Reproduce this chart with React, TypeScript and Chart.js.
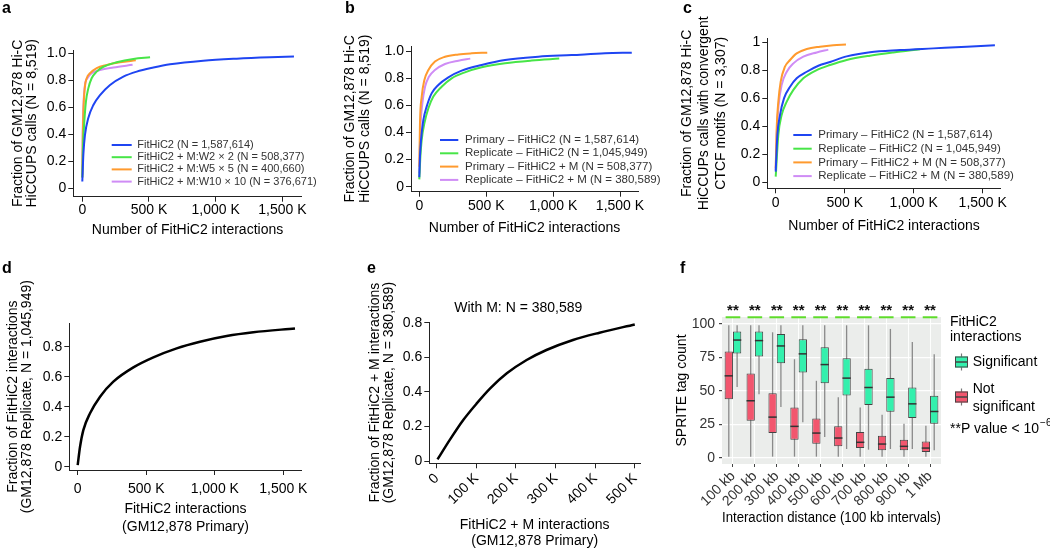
import React, { useEffect, useRef } from "react";
import { Chart, registerables } from "chart.js";
Chart.register(...registerables);

const FONT = "'Liberation Sans', Arial, Helvetica, sans-serif";
const AXIS = "#222";
const BLUE = "#1f45f2";
const GREEN = "#47e547";
const ORANGE = "#ff9a2e";
const PURPLE = "#cf8cf5";
const RED = "#f2566e";
const MINT = "#34f0ad";
const SIG_GREEN = "#5edc2a";

// ---------- Panel a ----------
const A_X_TICKS = [0, 500, 1000, 1500];
const A_Y_TICKS = [0, 0.2, 0.4, 0.6, 0.8, 1.0];
const A_FITHIC2_X = [0, 8, 20, 45, 83, 133, 208, 308, 408, 533, 658, 907, 1157, 1407, 1587];
const A_FITHIC2_Y = [0.05, 0.25, 0.395, 0.52, 0.617, 0.69, 0.765, 0.827, 0.864, 0.894, 0.918, 0.945, 0.96, 0.97, 0.975];
const A_W2_X = [0, 5, 12, 27, 45, 70, 108, 158, 258, 383, 508];
const A_W2_Y = [0.08, 0.3, 0.444, 0.64, 0.74, 0.815, 0.864, 0.9, 0.933, 0.958, 0.97];
const A_W5_X = [0, 3, 8, 18, 33, 58, 108, 183, 283, 401];
const A_W5_Y = [0.08, 0.35, 0.568, 0.74, 0.815, 0.852, 0.89, 0.913, 0.933, 0.948];
const A_W10_X = [0, 3, 8, 20, 38, 70, 133, 233, 377];
const A_W10_Y = [0.1, 0.4, 0.6, 0.765, 0.815, 0.852, 0.876, 0.894, 0.914];
const A_LABELS = [
  "FitHiC2 (N = 1,587,614)",
  "FitHiC2 + M:W2 \u00d7 2 (N = 508,377)",
  "FitHiC2 + M:W5 \u00d7 5 (N = 400,660)",
  "FitHiC2 + M:W10 \u00d7 10 (N = 376,671)",
];

// ---------- Panel b ----------
const B_PRIM_X = [0, 5, 13, 30, 55, 92, 142, 217, 317, 466, 641, 890, 1139, 1388, 1588];
const B_PRIM_Y = [0.07, 0.22, 0.344, 0.49, 0.59, 0.688, 0.75, 0.806, 0.855, 0.897, 0.934, 0.958, 0.97, 0.983, 0.988];
const B_REP_X = [0, 7, 18, 38, 68, 105, 167, 242, 341, 466, 641, 840, 1046];
const B_REP_Y = [0.054, 0.2, 0.344, 0.467, 0.578, 0.664, 0.737, 0.799, 0.843, 0.88, 0.91, 0.93, 0.944];
const B_PRIM_M_X = [0, 5, 18, 38, 68, 117, 192, 292, 391, 508];
const B_PRIM_M_Y = [0.147, 0.467, 0.664, 0.786, 0.86, 0.922, 0.958, 0.975, 0.983, 0.988];
const B_REP_M_X = [0, 8, 23, 43, 72, 117, 192, 292, 381];
const B_REP_M_Y = [0.098, 0.418, 0.614, 0.737, 0.81, 0.86, 0.904, 0.929, 0.944];
const BC_LABELS = [
  "Primary \u2013 FitHiC2 (N = 1,587,614)",
  "Replicate \u2013 FitHiC2 (N = 1,045,949)",
  "Primary \u2013 FitHiC2 + M (N = 508,377)",
  "Replicate \u2013 FitHiC2 + M (N = 380,589)",
];

// ---------- Panel c ----------
const C_Y_TICKS = [0, 0.2, 0.4, 0.6, 0.8, 1];
const C_PRIM_X = [0, 12, 31, 60, 104, 152, 225, 309, 394, 514, 683, 901, 1142, 1384, 1588];
const C_PRIM_Y = [0.076, 0.338, 0.48, 0.6, 0.683, 0.743, 0.79, 0.833, 0.86, 0.9, 0.93, 0.945, 0.957, 0.969, 0.98];
const C_REP_X = [0, 19, 43, 80, 128, 200, 297, 394, 514, 683, 852, 1046];
const C_REP_Y = [0.04, 0.338, 0.48, 0.576, 0.66, 0.743, 0.802, 0.838, 0.874, 0.905, 0.928, 0.95];
const C_PRIM_M_X = [0, 7, 19, 36, 67, 104, 152, 225, 321, 417, 509];
const C_PRIM_M_Y = [0.1, 0.386, 0.576, 0.719, 0.826, 0.874, 0.921, 0.952, 0.969, 0.98, 0.985];
const C_REP_M_X = [0, 7, 21, 43, 80, 128, 200, 297, 381];
const C_REP_M_Y = [0.088, 0.338, 0.552, 0.695, 0.79, 0.85, 0.898, 0.928, 0.948];

// ---------- Panel d ----------
const D_Y_TICKS = [0, 0.2, 0.4, 0.6, 0.8];
const D_X = [0, 17, 41, 90, 163, 260, 406, 552, 722, 892, 1087, 1281, 1585];
const D_Y = [0.011, 0.133, 0.244, 0.356, 0.467, 0.567, 0.662, 0.729, 0.789, 0.833, 0.871, 0.896, 0.922];

// ---------- Panel e ----------
const E_X_TICKS = [0, 100, 200, 300, 400, 500];
const E_X = [2, 33, 67, 101, 135, 177, 227, 277, 344, 411, 500];
const E_Y = [0.009, 0.122, 0.237, 0.333, 0.42, 0.507, 0.584, 0.642, 0.7, 0.742, 0.79];
const E_TITLE = "With M: N = 380,589";

// ---------- Panel f ----------
const F_LABELS = ["100 kb", "200 kb", "300 kb", "400 kb", "500 kb", "600 kb", "700 kb", "800 kb", "900 kb", "1 Mb"];
const F_Y_TICKS = [0, 25, 50, 75, 100];
const NS_MIN = [1, 1, 1, 1, 1, 1, 1, 1, 1, 1];
const NS_Q1 = [43.9, 27.8, 18.6, 13.6, 10.7, 8.7, 7.4, 5.7, 5.7, 4.5];
const NS_MED = [61.3, 42.7, 30.5, 23.6, 18.6, 14.9, 11.7, 10.4, 8.7, 7.4];
const NS_Q3 = [79.4, 63, 48.4, 37.7, 29.5, 23.6, 19.4, 16.6, 13.6, 12.4];
const NS_MAX = [99, 99, 93.8, 73.7, 57.6, 45.4, 37.7, 32.3, 25.6, 24];
const SG_MIN = [52.9, 47.6, 38, 26.6, 15.6, 6.7, 6.2, 6.7, 6.7, 5.7];
const SG_Q1 = [78, 75.7, 70.7, 63.8, 55.8, 46.7, 39.5, 34.5, 29.8, 25.6];
const SG_MED = [88, 87.6, 83.6, 77.7, 69.7, 59.6, 52.6, 45.4, 40.4, 34.7];
const SG_Q3 = [94.3, 94.3, 92.6, 88.6, 82.6, 74.4, 66.5, 59.6, 52.6, 46.4];
const SG_MAX = [99, 99, 99, 99, 99, 99, 99, 96.3, 86.6, 77.4];
const F_SIG_MARKS = ["**", "**", "**", "**", "**", "**", "**", "**", "**", "**"];
const F_SIG_LEVEL = 105;

const kFmt = (v: number) => (v === 0 ? "0" : `${v.toLocaleString("en-US")} K`);
const dec1 = (v: number) => (v === 0 ? "0" : v.toFixed(1));
const decC = (v: number) => (v === 0 ? "0" : v === 1 ? "1" : v.toFixed(1));

type Area = { left: number; top: number; right: number; bottom: number };
type Series = { label: string; x: number[]; y: number[]; color: string; width?: number };
type LinePanel = {
  w: number;
  h: number;
  area: Area;
  xRange: [number, number];
  yRange: [number, number];
  xTicks: number[];
  yTicks: number[];
  xFmt: (v: number) => string;
  yFmt: (v: number) => string;
  xRot?: number;
  xTickPad: number;
  xTitle: string[];
  xTitleLH: number;
  xTitlePad: number;
  yTitle: string[];
  yTitleLH: number;
  yTitlePad: number;
  series: Series[];
  legend?: { x: number; y: number; row: number; len: number; gap: number; size: number };
  texts?: { text: string; x: number; y: number; size: number }[];
};

function lineConfig(p: LinePanel): any {
  const overlay = {
    id: "overlay",
    afterDatasetsDraw(chart: any) {
      const { ctx, chartArea } = chart;
      ctx.save();
      if (p.legend) {
        const L = p.legend;
        ctx.font = `${L.size}px ${FONT}`;
        ctx.textBaseline = "middle";
        ctx.textAlign = "left";
        chart.data.datasets.forEach((ds: any, i: number) => {
          const y = chartArea.top + L.y + i * L.row;
          const x0 = chartArea.left + L.x;
          ctx.strokeStyle = ds.borderColor;
          ctx.lineWidth = 2;
          ctx.beginPath();
          ctx.moveTo(x0, y);
          ctx.lineTo(x0 + L.len, y);
          ctx.stroke();
          ctx.fillStyle = "#333";
          ctx.fillText(ds.label, x0 + L.len + L.gap, y);
        });
      }
      (p.texts || []).forEach((t) => {
        ctx.font = `${t.size}px ${FONT}`;
        ctx.fillStyle = "#000";
        ctx.textAlign = "center";
        ctx.textBaseline = "middle";
        ctx.fillText(t.text, t.x, t.y);
      });
      ctx.restore();
    },
  };
  return {
    type: "line",
    data: {
      datasets: p.series.map((s) => ({
        label: s.label,
        data: s.x.map((x, i) => ({ x, y: s.y[i] })),
        borderColor: s.color,
        backgroundColor: s.color,
        borderWidth: s.width ?? 2,
        pointRadius: 0,
        tension: 0.4,
        cubicInterpolationMode: "monotone",
        fill: false,
      })),
    },
    options: {
      responsive: false,
      animation: false,
      devicePixelRatio: 1,
      events: [],
      layout: { padding: { left: 0, top: p.area.top, right: p.w - p.area.right, bottom: 0 } },
      plugins: { legend: { display: false }, tooltip: { enabled: false } },
      scales: {
        x: {
          type: "linear",
          min: p.xRange[0],
          max: p.xRange[1],
          afterBuildTicks: (s: any) => {
            s.ticks = p.xTicks.map((v) => ({ value: v }));
          },
          afterFit: (s: any) => {
            s.height = p.h - p.area.bottom;
          },
          grid: { drawOnChartArea: false, drawTicks: true, tickLength: 5, color: AXIS, lineWidth: 1 },
          border: { display: true, color: AXIS, width: 1 },
          ticks: {
            color: "#000",
            font: { family: FONT, size: 14 },
            padding: p.xTickPad,
            autoSkip: false,
            maxRotation: p.xRot ?? 0,
            minRotation: p.xRot ?? 0,
            callback: (v: any) => p.xFmt(Number(v)),
          },
          title: {
            display: true,
            text: p.xTitle,
            color: "#000",
            font: { family: FONT, size: 14, lineHeight: p.xTitleLH / 14 },
            padding: { top: 0, bottom: p.xTitlePad },
          },
        },
        y: {
          type: "linear",
          min: p.yRange[0],
          max: p.yRange[1],
          afterBuildTicks: (s: any) => {
            s.ticks = p.yTicks.map((v) => ({ value: v }));
          },
          afterFit: (s: any) => {
            s.width = p.area.left;
          },
          grid: { drawOnChartArea: false, drawTicks: true, tickLength: 5, color: AXIS, lineWidth: 1 },
          border: { display: true, color: AXIS, width: 1 },
          ticks: {
            color: "#000",
            font: { family: FONT, size: 14 },
            padding: 2,
            callback: (v: any) => p.yFmt(Number(v)),
          },
          title: {
            display: true,
            text: p.yTitle,
            color: "#000",
            font: { family: FONT, size: 14, lineHeight: p.yTitleLH / 14 },
            padding: { top: p.yTitlePad, bottom: 0 },
          },
        },
      },
    },
    plugins: [overlay],
  };
}

const makeA = () =>
  lineConfig({
    w: 335, h: 245,
    area: { left: 73.3, top: 50, right: 301.7, bottom: 196.7 },
    xRange: [-67.5, 1645], yRange: [-0.062, 1.024],
    xTicks: A_X_TICKS, yTicks: A_Y_TICKS, xFmt: kFmt, yFmt: dec1, xTickPad: 0,
    xTitle: ["Number of FitHiC2 interactions"], xTitleLH: 16.8, xTitlePad: 6.6,
    yTitle: ["Fraction of GM12,878 Hi-C", "HiCCUPS calls (N = 8,519)"], yTitleLH: 13.6, yTitlePad: 11.5,
    series: [
      { label: A_LABELS[0], x: A_FITHIC2_X, y: A_FITHIC2_Y, color: BLUE },
      { label: A_LABELS[1], x: A_W2_X, y: A_W2_Y, color: GREEN },
      { label: A_LABELS[2], x: A_W5_X, y: A_W5_Y, color: ORANGE },
      { label: A_LABELS[3], x: A_W10_X, y: A_W10_Y, color: PURPLE },
    ],
    legend: { x: 38.4, y: 95, row: 12.2, len: 20, gap: 5.6, size: 11 },
  });

const makeB = () =>
  lineConfig({
    w: 335, h: 245,
    area: { left: 71, top: 46, right: 298, bottom: 191.7 },
    xRange: [-62, 1634.5], yRange: [-0.037, 1.037],
    xTicks: A_X_TICKS, yTicks: A_Y_TICKS, xFmt: kFmt, yFmt: dec1, xTickPad: 1,
    xTitle: ["Number of FitHiC2 interactions"], xTitleLH: 16.8, xTitlePad: 8.9,
    yTitle: ["Fraction of GM12,878 Hi-C", "HiCCUPS calls (N = 8,519)"], yTitleLH: 15, yTitlePad: 2.5,
    series: [
      { label: BC_LABELS[0], x: B_PRIM_X, y: B_PRIM_Y, color: BLUE },
      { label: BC_LABELS[1], x: B_REP_X, y: B_REP_Y, color: GREEN },
      { label: BC_LABELS[2], x: B_PRIM_M_X, y: B_PRIM_M_Y, color: ORANGE },
      { label: BC_LABELS[3], x: B_REP_M_X, y: B_REP_M_Y, color: PURPLE },
    ],
    legend: { x: 29, y: 94, row: 13.3, len: 18.3, gap: 6.7, size: 11.5 },
  });

const makeC = () =>
  lineConfig({
    w: 375, h: 245,
    area: { left: 92.3, top: 38.3, right: 325.7, bottom: 188.3 },
    xRange: [-60.9, 1630], yRange: [-0.043, 1.029],
    xTicks: A_X_TICKS, yTicks: C_Y_TICKS, xFmt: kFmt, yFmt: decC, xTickPad: 1.3,
    xTitle: ["Number of FitHiC2 interactions"], xTitleLH: 16.8, xTitlePad: 10.9,
    yTitle: ["Fraction of GM12,878 Hi-C", "HiCCUPs calls with convergent", "CTCF motifs (N = 3,307)"],
    yTitleLH: 17, yTitlePad: 4,
    series: [
      { label: BC_LABELS[0], x: C_PRIM_X, y: C_PRIM_Y, color: BLUE },
      { label: BC_LABELS[1], x: C_REP_X, y: C_REP_Y, color: GREEN },
      { label: BC_LABELS[2], x: C_PRIM_M_X, y: C_PRIM_M_Y, color: ORANGE },
      { label: BC_LABELS[3], x: C_REP_M_X, y: C_REP_M_Y, color: PURPLE },
    ],
    legend: { x: 26, y: 96.7, row: 13.7, len: 18.4, gap: 6.6, size: 11.5 },
  });

const makeD = () =>
  lineConfig({
    w: 335, h: 279,
    area: { left: 69.3, top: 53.3, right: 301.7, bottom: 200 },
    xRange: [-61.3, 1634], yRange: [-0.022, 0.956],
    xTicks: A_X_TICKS, yTicks: D_Y_TICKS, xFmt: kFmt, yFmt: dec1, xTickPad: 5.9,
    xTitle: ["FitHiC2 interactions", "(GM12,878 Primary)"], xTitleLH: 17.4, xTitlePad: 13.6,
    yTitle: ["Fraction of FitHiC2 interactions", "(GM12,878 Replicate, N = 1,045,949)"], yTitleLH: 13.4, yTitlePad: 6.6,
    series: [{ label: "Replicate vs Primary", x: D_X, y: D_Y, color: "#000", width: 2.5 }],
  });

const makeE = () =>
  lineConfig({
    w: 335, h: 279,
    area: { left: 89.3, top: 52, right: 300, bottom: 193.3 },
    xRange: [-18.7, 513.2], yRange: [-0.0133, 0.804],
    xTicks: E_X_TICKS, yTicks: D_Y_TICKS, xFmt: kFmt, yFmt: dec1, xTickPad: 2, xRot: 45,
    xTitle: ["FitHiC2 + M interactions", "(GM12,878 Primary)"], xTitleLH: 16, xTitlePad: 0,
    yTitle: ["Fraction of FitHiC2 + M interactions", "(GM12,878 Replicate, N = 380,589)"], yTitleLH: 14.3, yTitlePad: 27.8,
    series: [{ label: "With M", x: E_X, y: E_Y, color: "#000", width: 2.5 }],
    texts: [{ text: E_TITLE, x: 178.3, y: 38.3, size: 14 }],
  });

const makeF = (): any => {
  const W = 375;
  const H = 279;
  const area = { left: 47, top: 47, right: 266, bottom: 194 };
  const stats = [
    { min: NS_MIN, med: NS_MED, max: NS_MAX },
    { min: SG_MIN, med: SG_MED, max: SG_MAX },
  ];
  const drawIcon = (ctx: any, x: number, y0: number, fill: string) => {
    ctx.strokeStyle = "#777";
    ctx.lineWidth = 1.2;
    ctx.beginPath();
    ctx.moveTo(x + 6.5, y0 - 3);
    ctx.lineTo(x + 6.5, y0 + 14);
    ctx.stroke();
    ctx.fillStyle = fill;
    ctx.fillRect(x, y0, 13, 11);
    ctx.strokeStyle = "#444";
    ctx.lineWidth = 1;
    ctx.strokeRect(x + 0.5, y0 + 0.5, 12, 10);
    ctx.lineWidth = 1.5;
    ctx.beginPath();
    ctx.moveTo(x, y0 + 5.5);
    ctx.lineTo(x + 13, y0 + 5.5);
    ctx.stroke();
  };
  const plugin = {
    id: "boxplot",
    beforeDraw(chart: any) {
      const { ctx, chartArea } = chart;
      ctx.save();
      ctx.fillStyle = "#ebedeb";
      ctx.fillRect(chartArea.left, chartArea.top, chartArea.right - chartArea.left, chartArea.bottom - chartArea.top);
      ctx.restore();
    },
    beforeDatasetsDraw(chart: any) {
      const { ctx } = chart;
      const ys = chart.scales.y;
      ctx.save();
      ctx.strokeStyle = "#8a8a8a";
      ctx.lineWidth = 1.3;
      stats.forEach((st, di) => {
        chart.getDatasetMeta(di).data.forEach((el: any, j: number) => {
          ctx.beginPath();
          ctx.moveTo(el.x, ys.getPixelForValue(st.min[j]));
          ctx.lineTo(el.x, ys.getPixelForValue(st.max[j]));
          ctx.stroke();
        });
      });
      ctx.restore();
    },
    afterDatasetsDraw(chart: any) {
      const { ctx } = chart;
      const ys = chart.scales.y;
      ctx.save();
      ctx.strokeStyle = "#333";
      ctx.lineWidth = 1.5;
      stats.forEach((st, di) => {
        chart.getDatasetMeta(di).data.forEach((el: any, j: number) => {
          const y = ys.getPixelForValue(st.med[j]);
          ctx.beginPath();
          ctx.moveTo(el.x - el.width / 2, y);
          ctx.lineTo(el.x + el.width / 2, y);
          ctx.stroke();
        });
      });
      const m0 = chart.getDatasetMeta(0).data;
      const m1 = chart.getDatasetMeta(1).data;
      const ly = ys.getPixelForValue(F_SIG_LEVEL);
      F_SIG_MARKS.forEach((mark, j) => {
        const l = m0[j].x - m0[j].width / 2 + 1;
        const r = m1[j].x + m1[j].width / 2 - 1;
        ctx.strokeStyle = SIG_GREEN;
        ctx.lineWidth = 2;
        ctx.beginPath();
        ctx.moveTo(l, ly);
        ctx.lineTo(r, ly);
        ctx.stroke();
        ctx.fillStyle = "#111";
        ctx.font = `bold 15px ${FONT}`;
        ctx.textAlign = "center";
        ctx.textBaseline = "alphabetic";
        ctx.fillText(mark, (l + r) / 2, ly - 2);
      });
      // legend
      ctx.fillStyle = "#000";
      ctx.textAlign = "left";
      ctx.textBaseline = "middle";
      ctx.font = `14px ${FONT}`;
      ctx.fillText("FitHiC2", 275, 51.7);
      ctx.fillText("interactions", 275, 67.3);
      drawIcon(ctx, 280, 86.5, MINT);
      ctx.fillStyle = "#000";
      ctx.fillText("Significant", 297.7, 91.7);
      drawIcon(ctx, 280, 121.5, RED);
      ctx.fillStyle = "#000";
      ctx.fillText("Not", 297.7, 119.3);
      ctx.fillText("significant", 297.7, 136.7);
      const pv = "**P value < 10";
      ctx.fillText(pv, 275, 159.3);
      const wpv = ctx.measureText(pv).width;
      ctx.font = `10px ${FONT}`;
      ctx.fillText("\u22126", 275 + wpv + 1, 153);
      ctx.restore();
    },
  };
  return {
    type: "bar",
    data: {
      labels: F_LABELS,
      datasets: [
        {
          label: "Not significant",
          data: NS_Q1.map((q, i) => [q, NS_Q3[i]]),
          backgroundColor: RED,
          borderColor: "#444",
          borderWidth: 1,
          borderSkipped: false,
          categoryPercentage: 0.76,
          barPercentage: 1,
        },
        {
          label: "Significant",
          data: SG_Q1.map((q, i) => [q, SG_Q3[i]]),
          backgroundColor: MINT,
          borderColor: "#444",
          borderWidth: 1,
          borderSkipped: false,
          categoryPercentage: 0.76,
          barPercentage: 1,
        },
      ],
    },
    options: {
      responsive: false,
      animation: false,
      devicePixelRatio: 1,
      events: [],
      layout: { padding: { left: 0, top: area.top, right: W - area.right, bottom: 0 } },
      plugins: { legend: { display: false }, tooltip: { enabled: false } },
      scales: {
        x: {
          type: "category",
          afterFit: (s: any) => {
            s.height = H - area.bottom;
          },
          grid: { display: true, offset: false, color: "rgba(255,255,255,0.9)", lineWidth: 1, drawTicks: true, tickLength: 3, tickColor: "#444" },
          border: { display: false },
          ticks: {
            color: "#333",
            font: { family: FONT, size: 14 },
            autoSkip: false,
            maxRotation: 45,
            minRotation: 45,
            padding: 1,
          },
          title: {
            display: true,
            text: "Interaction distance (100 kb intervals)",
            color: "#000",
            font: { family: FONT, size: 14 },
            padding: { top: 0, bottom: 22.3 },
          },
        },
        y: {
          type: "linear",
          min: -4.48,
          max: 105.2,
          afterBuildTicks: (s: any) => {
            s.ticks = F_Y_TICKS.map((v) => ({ value: v }));
          },
          afterFit: (s: any) => {
            s.width = area.left;
          },
          grid: { display: true, color: "rgba(255,255,255,0.95)", lineWidth: 1.2, drawTicks: true, tickLength: 3, tickColor: "#444" },
          border: { display: false },
          ticks: { color: "#333", font: { family: FONT, size: 14 }, padding: 4 },
          title: {
            display: true,
            text: "SPRITE tag count",
            color: "#000",
            font: { family: FONT, size: 14, lineHeight: 1 },
            padding: { top: 0, bottom: 0 },
          },
        },
      },
    },
    plugins: [plugin],
  };
};

function Panel({ x, y, w, h, make }: { x: number; y: number; w: number; h: number; make: () => any }) {
  const ref = useRef<HTMLCanvasElement>(null);
  useEffect(() => {
    if (!ref.current) return;
    const chart = new Chart(ref.current, make());
    return () => chart.destroy();
  }, [make]);
  return (
    <canvas
      ref={ref}
      width={w}
      height={h}
      style={{ position: "absolute", left: x, top: y, width: w, height: h }}
    />
  );
}

const LETTERS = [
  { t: "a", x: 2, y: -0.5 },
  { t: "b", x: 345, y: -0.5 },
  { t: "c", x: 683, y: -0.5 },
  { t: "d", x: 2, y: 259.5 },
  { t: "e", x: 367, y: 259.5 },
  { t: "f", x: 680, y: 259.5 },
];

export default function App() {
  return (
    <div
      style={{
        position: "fixed",
        left: 0,
        top: 0,
        width: 1050,
        height: 549,
        background: "#fff",
        overflow: "hidden",
      }}
    >
      <Panel x={0} y={0} w={335} h={245} make={makeA} />
      <Panel x={340} y={0} w={335} h={245} make={makeB} />
      <Panel x={675} y={0} w={375} h={245} make={makeC} />
      <Panel x={0} y={270} w={335} h={279} make={makeD} />
      <Panel x={340} y={270} w={335} h={279} make={makeE} />
      <Panel x={675} y={270} w={375} h={279} make={makeF} />
      {LETTERS.map((l) => (
        <span
          key={l.t}
          style={{
            position: "absolute",
            left: l.x,
            top: l.y,
            font: `bold 16px ${FONT}`,
            lineHeight: "16px",
            color: "#000",
          }}
        >
          {l.t}
        </span>
      ))}
    </div>
  );
}
